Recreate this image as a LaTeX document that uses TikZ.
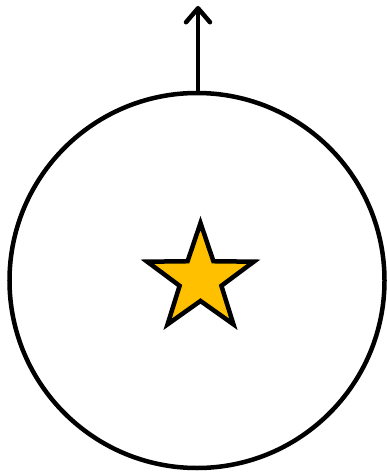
\documentclass[tikz,border=0pt]{standalone}
\usetikzlibrary{shapes.geometric,arrows.meta}
\definecolor{stargold}{HTML}{FFC000}
\begin{document}
\begin{tikzpicture}[x=1pt,y=-1pt,
  ring/.style={circle,draw=black,line width=4.5pt,minimum size=375pt,inner sep=0pt},
  starshape/.style={star,star points=5,star point ratio=2.55,draw=black,fill=stargold,line width=4.5pt,minimum size=112pt,inner sep=0pt},
  uparrow/.style={line width=4.5pt,line cap=round,-{Straight Barb[length=14pt,width=24pt,round]}}]
\useasboundingbox (0,0) rectangle (386,473);
\node[ring] (c) at (197,280.5) {};
\node[starshape] (s) at (200.5,279) {};
\coordinate (tip) at (198,6);
\draw[uparrow] (c.north -| tip) -- (tip);
\end{tikzpicture}
\end{document}
